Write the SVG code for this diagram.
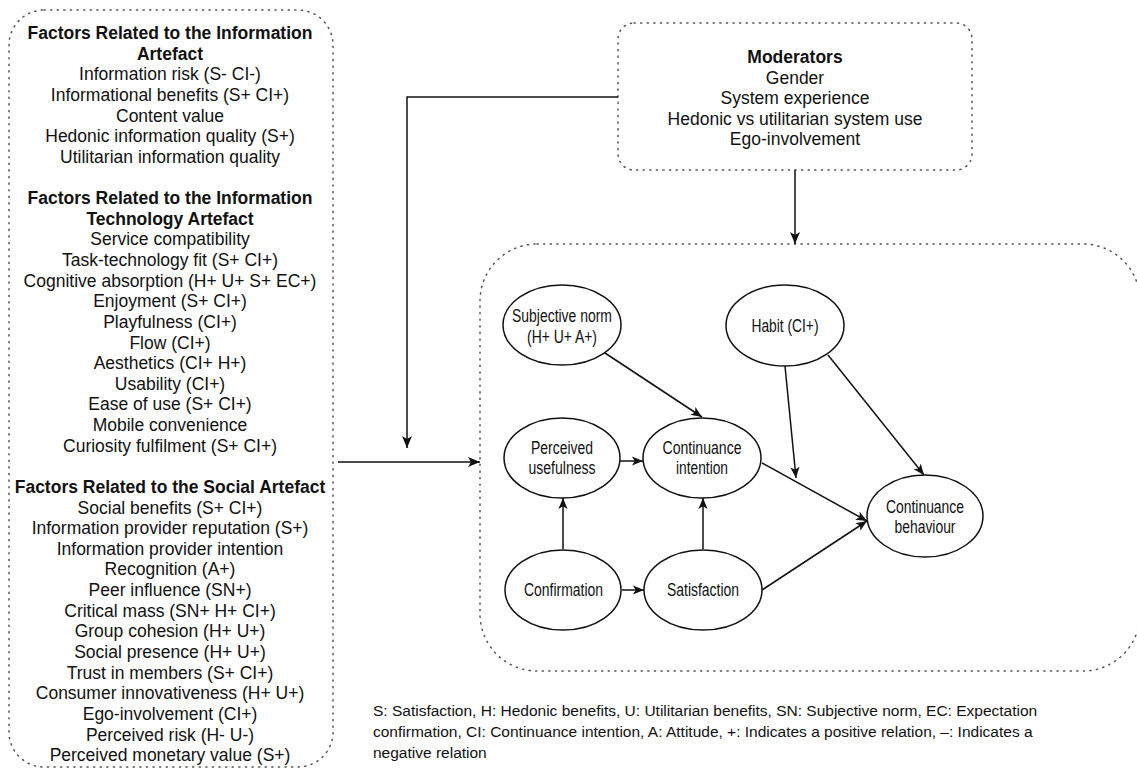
<svg xmlns="http://www.w3.org/2000/svg" width="1137" height="769" viewBox="0 0 1137 769">
<style>
.box{fill:none;stroke:#555;stroke-width:1.5;stroke-dasharray:1.2 5.4;stroke-linecap:round}
.t{font-family:"Liberation Sans",Arial,sans-serif;font-size:17.5px;fill:#111;text-anchor:middle}
.b{font-weight:bold}
.e{fill:#fff;stroke:#111;stroke-width:1.5}
.et{font-family:"Liberation Sans",Arial,sans-serif;font-size:17.5px;fill:#111;text-anchor:middle}
.c{fill:none;stroke:#111;stroke-width:1.5}
.lg{font-family:"Liberation Sans",Arial,sans-serif;font-size:15.5px;fill:#111}
</style>
<defs>
<marker id="ah" viewBox="0 0 12 10" refX="12" refY="5" markerWidth="12" markerHeight="10" markerUnits="userSpaceOnUse" orient="auto">
<path d="M0,0 L12,5 L0,10 L3,5 z" fill="#111"/>
</marker>
<marker id="as" viewBox="0 0 12 10" refX="12" refY="5" markerWidth="11" markerHeight="9.5" markerUnits="userSpaceOnUse" orient="auto">
<path d="M0,0 L12,5 L0,10 L3,5 z" fill="#111"/>
</marker>
</defs>

<g id="factors">
<rect class="box" x="9" y="10" width="324" height="757" rx="35"/>
<text class="t b" x="170" y="39">Factors Related to the Information</text>
<text class="t b" x="170" y="59.6">Artefact</text>
<text class="t" x="170" y="80.3">Information risk (S- CI-)</text>
<text class="t" x="170" y="100.9">Informational benefits (S+ CI+)</text>
<text class="t" x="170" y="121.5">Content value</text>
<text class="t" x="170" y="142.2">Hedonic information quality (S+)</text>
<text class="t" x="170" y="162.8">Utilitarian information quality</text>
<text class="t b" x="170" y="204">Factors Related to the Information</text>
<text class="t b" x="170" y="224.7">Technology Artefact</text>
<text class="t" x="170" y="245.3">Service compatibility</text>
<text class="t" x="170" y="265.9">Task-technology fit (S+ CI+)</text>
<text class="t" x="170" y="286.6">Cognitive absorption (H+ U+ S+ EC+)</text>
<text class="t" x="170" y="307.2">Enjoyment (S+ CI+)</text>
<text class="t" x="170" y="327.8">Playfulness (CI+)</text>
<text class="t" x="170" y="348.5">Flow (CI+)</text>
<text class="t" x="170" y="369.1">Aesthetics (CI+ H+)</text>
<text class="t" x="170" y="389.7">Usability (CI+)</text>
<text class="t" x="170" y="410.3">Ease of use (S+ CI+)</text>
<text class="t" x="170" y="431">Mobile convenience</text>
<text class="t" x="170" y="451.6">Curiosity fulfilment (S+ CI+)</text>
<text class="t b" x="170" y="492.9">Factors Related to the Social Artefact</text>
<text class="t" x="170" y="513.5">Social benefits (S+ CI+)</text>
<text class="t" x="170" y="534.1">Information provider reputation (S+)</text>
<text class="t" x="170" y="554.8">Information provider intention</text>
<text class="t" x="170" y="575.4">Recognition (A+)</text>
<text class="t" x="170" y="596">Peer influence (SN+)</text>
<text class="t" x="170" y="616.7">Critical mass (SN+ H+ CI+)</text>
<text class="t" x="170" y="637.3">Group cohesion (H+ U+)</text>
<text class="t" x="170" y="657.9">Social presence (H+ U+)</text>
<text class="t" x="170" y="678.6">Trust in members (S+ CI+)</text>
<text class="t" x="170" y="699.2">Consumer innovativeness (H+ U+)</text>
<text class="t" x="170" y="719.8">Ego-involvement (CI+)</text>
<text class="t" x="170" y="740.5">Perceived risk (H- U-)</text>
<text class="t" x="170" y="761.1">Perceived monetary value (S+)</text>
</g>

<g id="moderators">
<rect class="box" x="618" y="23" width="354" height="147" rx="16"/>
<text class="t b" x="795" y="63">Moderators</text>
<text class="t" x="795" y="83.5">Gender</text>
<text class="t" x="795" y="104">System experience</text>
<text class="t" x="795" y="124.5">Hedonic vs utilitarian system use</text>
<text class="t" x="795" y="145">Ego-involvement</text>
</g>

<g id="model">
<rect class="box" x="480" y="244" width="660" height="427" rx="57"/>
</g>

<g id="connectors">
<polyline class="c" points="618,97 407,97 407,448" marker-end="url(#ah)"/>
<line class="c" x1="795" y1="170" x2="795" y2="244" marker-end="url(#ah)"/>
<line class="c" x1="338" y1="462" x2="480" y2="462" marker-end="url(#ah)"/>
<line class="c" x1="605" y1="353" x2="702" y2="417" marker-end="url(#as)"/>
<line class="c" x1="785" y1="366" x2="796" y2="478" marker-end="url(#as)"/>
<line class="c" x1="828" y1="355" x2="924" y2="475" marker-end="url(#as)"/>
<line class="c" x1="620" y1="461" x2="643" y2="461" marker-end="url(#as)"/>
<line class="c" x1="762" y1="463" x2="867" y2="521" marker-end="url(#as)"/>
<line class="c" x1="762" y1="590" x2="867" y2="521" marker-end="url(#as)"/>
<line class="c" x1="563" y1="549" x2="563" y2="498" marker-end="url(#as)"/>
<line class="c" x1="703" y1="549" x2="703" y2="498" marker-end="url(#as)"/>
<line class="c" x1="622" y1="590" x2="644" y2="590" marker-end="url(#as)"/>
</g>

<g id="subjective-norm">
<ellipse class="e" cx="562" cy="325" rx="59" ry="40"/>
<text class="et" x="562" y="322" textLength="100" lengthAdjust="spacingAndGlyphs">Subjective norm</text>
<text class="et" x="562" y="343" textLength="70" lengthAdjust="spacingAndGlyphs">(H+ U+ A+)</text>
</g>
<g id="habit">
<ellipse class="e" cx="785" cy="325.5" rx="59" ry="40.5"/>
<text class="et" x="785" y="332" textLength="67" lengthAdjust="spacingAndGlyphs">Habit (CI+)</text>
</g>
<g id="perceived-usefulness">
<ellipse class="e" cx="562" cy="458" rx="58" ry="40"/>
<text class="et" x="562" y="454" textLength="62" lengthAdjust="spacingAndGlyphs">Perceived</text>
<text class="et" x="562" y="474" textLength="67" lengthAdjust="spacingAndGlyphs">usefulness</text>
</g>
<g id="continuance-intention">
<ellipse class="e" cx="702" cy="458" rx="59" ry="40"/>
<text class="et" x="702" y="454" textLength="79" lengthAdjust="spacingAndGlyphs">Continuance</text>
<text class="et" x="702" y="474" textLength="52" lengthAdjust="spacingAndGlyphs">intention</text>
</g>
<g id="confirmation">
<ellipse class="e" cx="563" cy="590" rx="58" ry="40"/>
<text class="et" x="563.5" y="596" textLength="79" lengthAdjust="spacingAndGlyphs">Confirmation</text>
</g>
<g id="satisfaction">
<ellipse class="e" cx="703" cy="590" rx="59" ry="40"/>
<text class="et" x="703" y="596" textLength="72" lengthAdjust="spacingAndGlyphs">Satisfaction</text>
</g>
<g id="continuance-behaviour">
<ellipse class="e" cx="925" cy="516" rx="58" ry="41"/>
<text class="et" x="925" y="513" textLength="78" lengthAdjust="spacingAndGlyphs">Continuance</text>
<text class="et" x="925" y="533" textLength="61" lengthAdjust="spacingAndGlyphs">behaviour</text>
</g>

<g id="legend">
<text class="lg" x="373" y="715.5">S: Satisfaction, H: Hedonic benefits, U: Utilitarian benefits, SN: Subjective norm, EC: Expectation</text>
<text class="lg" x="373" y="736.5">confirmation, CI: Continuance intention, A: Attitude, +: Indicates a positive relation, –: Indicates a</text>
<text class="lg" x="373" y="757.5">negative relation</text>
</g>
</svg>
